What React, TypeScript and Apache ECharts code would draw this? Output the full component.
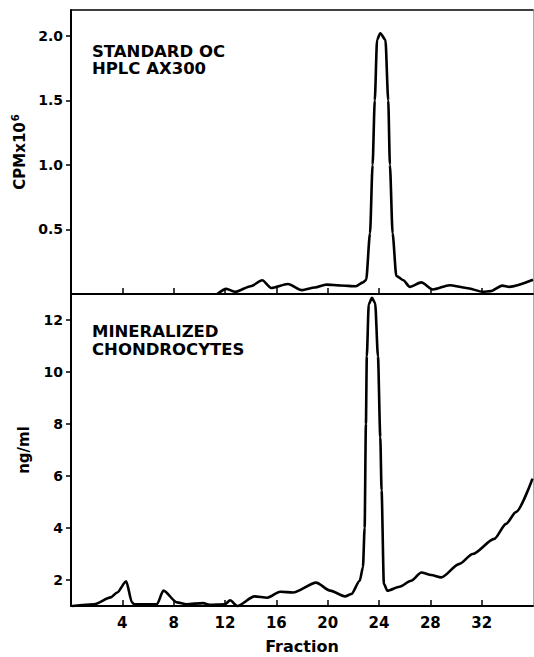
import React, { useEffect, useRef } from "react";
import * as echarts from "echarts";

// Top panel: standard OC, HPLC AX300 (CPM x 10^6) vs fraction
const topFraction = [11.4, 12.1, 12.8, 14.0, 14.9, 15.6, 16.9, 18.0, 19.0, 19.9, 21.0, 22.2, 22.75, 23.0, 23.3, 23.5, 23.67, 23.85, 24.1, 24.5, 24.72, 24.85, 25.06, 25.35, 25.9, 26.4, 27.3, 28.2, 29.5, 30.8, 32.1, 32.7, 33.6, 34.15, 36.0];
const topCPM = [0.0, 0.04, 0.017, 0.06, 0.106, 0.047, 0.078, 0.03, 0.05, 0.073, 0.066, 0.06, 0.09, 0.11, 0.47, 1.0, 1.5, 1.97, 2.02, 1.97, 1.5, 1.0, 0.47, 0.14, 0.106, 0.055, 0.09, 0.035, 0.068, 0.047, 0.017, 0.022, 0.065, 0.055, 0.11];

// Bottom panel: mineralized chondrocytes (ng/ml) vs fraction
const botFraction = [0.1, 1.8, 3.1, 3.6, 4.3, 4.75, 4.9, 6.7, 7.2, 8.25, 9.0, 10.3, 10.8, 12.0, 12.4, 12.95, 14.3, 15.3, 16.3, 17.3, 19.1, 20.2, 21.35, 21.85, 22.5, 22.75, 22.88, 22.98, 23.05, 23.2, 23.45, 23.7, 23.92, 24.1, 24.2, 24.38, 24.65, 25.6, 26.5, 27.3, 28.07, 28.85, 30.27, 31.3, 32.98, 33.9, 34.67, 35.96];
const botNgMl = [1.0, 1.07, 1.33, 1.52, 1.95, 1.14, 1.07, 1.07, 1.59, 1.14, 1.07, 1.11, 1.05, 1.07, 1.22, 1.0, 1.37, 1.32, 1.55, 1.52, 1.9, 1.59, 1.37, 1.46, 1.97, 2.5, 4.0, 8.0, 10.6, 12.6, 12.85, 12.65, 10.6, 7.5, 5.45, 1.85, 1.59, 1.74, 1.97, 2.29, 2.19, 2.1, 2.62, 3.0, 3.58, 4.16, 4.61, 5.9];

const xTicks = [4, 8, 12, 16, 20, 24, 28, 32];
const topYTicks = [0.5, 1.0, 1.5, 2.0];
const botYTicks = [2, 4, 6, 8, 10, 12];

const FONT = "DejaVu Sans";

export default function App() {
  const ref = useRef<HTMLDivElement>(null);
  useEffect(() => {
    if (!ref.current) return;
    const chart = echarts.init(ref.current, null, { renderer: "svg" });
    const topData = topFraction.map((x, i) => [x, topCPM[i]]);
    const botData = botFraction.map((x, i) => [x, botNgMl[i]]);
    const axisLine = { show: true, onZero: false, lineStyle: { color: "#000", width: 2 } };
    const lbl = { color: "#000", fontFamily: FONT, fontWeight: "bold" as const };
    const annot = (text: string, top: number) => ({
      type: "text", left: 92, top, scaleX: 1.1,
      style: { text, fill: "#000", font: `bold 15px "${FONT}"`, lineHeight: 16 },
    });
    chart.setOption({
      animation: false,
      backgroundColor: "#fff",
      grid: [
        { left: 71, top: 10, width: 462, height: 284 },
        { left: 71, top: 294, width: 462, height: 312 },
      ],
      xAxis: [
        {
          type: "value", gridIndex: 0, min: 0, max: 36, position: "bottom",
          axisLine, splitLine: { show: false },
          axisTick: { show: true, inside: true, length: 6, lineStyle: { color: "#000", width: 1.5 }, customValues: xTicks },
          axisLabel: { show: false },
        },
        {
          type: "value", gridIndex: 1, min: 0, max: 36, position: "bottom",
          axisLine, splitLine: { show: false },
          axisTick: { show: true, inside: true, length: 6, lineStyle: { color: "#000", width: 1.5 }, customValues: xTicks },
          axisLabel: { ...lbl, fontSize: 15, margin: 9, customValues: xTicks, formatter: (v: number) => String(v) },
          name: "Fraction", nameLocation: "middle", nameGap: 32,
          nameTextStyle: { ...lbl, fontSize: 16 },
        },
        {
          type: "value", gridIndex: 0, min: 0, max: 36, position: "top",
          axisLine: { show: true, onZero: false, lineStyle: { color: "#000", width: 1.5 } },
          axisTick: { show: false }, axisLabel: { show: false }, splitLine: { show: false },
        },
      ],
      yAxis: [
        {
          type: "value", gridIndex: 0, min: 0, max: 2.2, position: "left",
          axisLine, splitLine: { show: false },
          axisTick: { show: true, length: 5, lineStyle: { color: "#000", width: 1.5 }, customValues: topYTicks },
          axisLabel: { ...lbl, fontSize: 14, margin: 8, customValues: topYTicks, formatter: (v: number) => v.toFixed(1) },
          name: "CPMx10{sup|6}", nameLocation: "middle", nameGap: 40,
          nameTextStyle: {
            ...lbl, fontSize: 15,
            rich: { sup: { ...lbl, fontSize: 10, verticalAlign: "top", padding: [0, 0, 8, 1] } },
          },
        },
        {
          type: "value", gridIndex: 1, min: 1, max: 13, position: "left",
          axisLine, splitLine: { show: false },
          axisTick: { show: true, length: 5, lineStyle: { color: "#000", width: 1.5 }, customValues: botYTicks },
          axisLabel: { ...lbl, fontSize: 14, margin: 8, customValues: botYTicks, formatter: (v: number) => String(v) },
          name: "ng/ml", nameLocation: "middle", nameGap: 40,
          nameTextStyle: { ...lbl, fontSize: 15 },
        },
        {
          type: "value", gridIndex: 0, min: 0, max: 2.2, position: "right",
          axisLine: { show: true, onZero: false, lineStyle: { color: "#aaa", width: 1 } },
          axisTick: { show: false }, axisLabel: { show: false }, splitLine: { show: false },
        },
        {
          type: "value", gridIndex: 1, min: 1, max: 13, position: "right",
          axisLine: { show: true, onZero: false, lineStyle: { color: "#aaa", width: 1 } },
          axisTick: { show: false }, axisLabel: { show: false }, splitLine: { show: false },
        },
      ],
      series: [
        {
          type: "line", xAxisIndex: 0, yAxisIndex: 0, data: topData,
          showSymbol: false, smooth: 0.25, smoothMonotone: "x", clip: false,
          lineStyle: { color: "#000", width: 2.6 },
        },
        {
          type: "line", xAxisIndex: 1, yAxisIndex: 1, data: botData,
          showSymbol: false, smooth: 0.25, smoothMonotone: "x", clip: false,
          lineStyle: { color: "#000", width: 2.6 },
        },
      ],
      graphic: [
        annot("STANDARD OC", 44),
        annot("HPLC AX300", 61),
        annot("MINERALIZED", 324),
        annot("CHONDROCYTES", 342),
      ],
    });
    return () => chart.dispose();
  }, []);
  return <div ref={ref} style={{ position: "fixed", left: 0, top: 0, width: 534, height: 657 }} />;
}
